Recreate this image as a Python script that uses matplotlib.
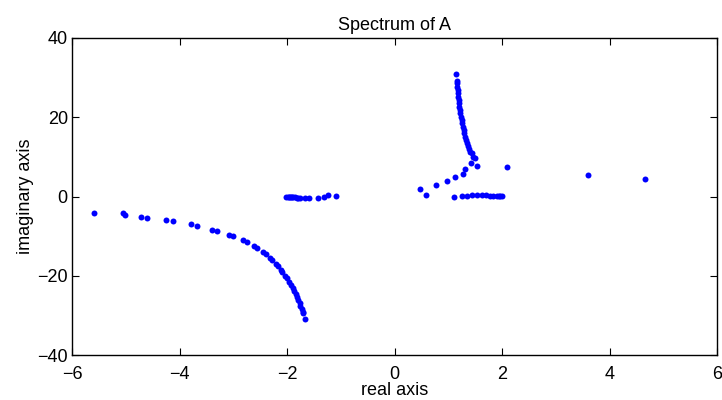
import matplotlib
matplotlib.use('Agg')
import matplotlib.pyplot as plt

plt.rcParams['font.family'] = ['Liberation Sans', 'DejaVu Sans']

# lower-left branch
left_re = [-5.60, -5.045, -5.014, -4.72, -4.60, -4.26, -4.13, -3.79, -3.67, -3.39,
           -3.30, -3.07, -3.00, -2.82, -2.75, -2.61, -2.56, -2.45, -2.40, -2.32,
           -2.27, -2.20, -2.17, -2.12, -2.09, -2.03, -2.00, -1.96, -1.93, -1.89,
           -1.87, -1.84, -1.81, -1.79, -1.76, -1.75, -1.73, -1.71, -1.70, -1.67]
left_im = [-4.29, -4.29, -4.63, -5.05, -5.30, -5.89, -6.22, -6.98, -7.40, -8.33,
           -8.66, -9.67, -10.09, -11.02, -11.44, -12.53, -13.04, -14.04, -14.55, -15.56,
           -16.06, -17.07, -17.49, -18.59, -19.01, -20.18, -20.60, -21.70, -22.37, -23.13,
           -23.88, -24.73, -25.40, -26.24, -26.91, -27.75, -28.34, -29.10, -29.52, -30.95]

# cluster near the real axis around -2..-1
mid_re = [-2.01, -1.99, -1.97, -1.95, -1.93, -1.91, -1.88, -1.85, -1.82, -1.79,
          -1.76, -1.67, -1.60, -1.42, -1.32, -1.24, -1.08]
mid_im = [0.0, -0.03, -0.06, -0.09, -0.12, -0.15, -0.18, -0.22, -0.26, -0.30,
          -0.34, -0.34, -0.34, -0.34, -0.17, 0.34, 0.10]

# upper branch
up_re = [1.144, 1.157, 1.163, 1.169, 1.176, 1.181, 1.187, 1.195, 1.200, 1.206,
         1.219, 1.225, 1.237, 1.250, 1.261, 1.274, 1.287, 1.298, 1.312, 1.330,
         1.343, 1.362, 1.380, 1.405, 1.436, 1.466, 1.498, 1.423, 1.529]
up_im = [30.84, 29.23, 28.56, 27.71, 26.87, 26.00, 25.20, 24.35, 23.50, 22.66,
         21.80, 20.97, 20.10, 19.30, 18.46, 17.60, 16.80, 15.95, 15.10, 14.27,
         13.60, 12.74, 11.90, 11.20, 10.90, 9.90, 9.80, 8.40, 7.70]

# diagonal branch from 0.5 upward
diag_re = [0.474, 0.586, 0.772, 0.971, 1.126, 1.280, 1.312]
diag_im = [1.84, 0.33, 2.93, 3.86, 4.80, 5.80, 6.90]

# near-real group right of the origin
row_re = [1.107, 1.250, 1.343, 1.436, 1.529, 1.622, 1.702, 1.777, 1.838, 1.901,
          1.940, 1.963, 1.994]
row_im = [-0.10, 0.15, 0.25, 0.30, 0.30, 0.30, 0.30, 0.25, 0.20, 0.15,
          0.10, 0.05, 0.05]

# isolated eigenvalues
iso_re = [2.087, 3.594, 4.667]
iso_im = [7.40, 5.55, 4.54]

re = left_re + mid_re + up_re + diag_re + row_re + iso_re
im = left_im + mid_im + up_im + diag_im + row_im + iso_im

fig = plt.figure(figsize=(7.22, 4.0), dpi=100)
ax = fig.add_axes([72 / 722, 45 / 400, 645 / 722, 317 / 400])
ax.plot(re, im, 'o', color='#0000ff', markersize=4.3, markeredgewidth=0, linestyle='none')
ax.set_xlim(-6, 6)
ax.set_ylim(-40, 40)
ax.set_xticks([-6, -4, -2, 0, 2, 4, 6])
ax.set_yticks([-40, -20, 0, 20, 40])
ax.tick_params(direction='in', top=True, right=True, labelsize=13, length=5)
ax.tick_params(axis='x', pad=8)
ax.tick_params(axis='y', pad=3)
for s in ax.spines.values():
    s.set_linewidth(1.0)
ax.set_xlabel('real axis', fontsize=13, labelpad=-1)
ax.set_ylabel('imaginary axis', fontsize=13, labelpad=2)
ax.set_title('Spectrum of A', fontsize=13, pad=6)
fig.savefig('out.png', dpi=100)
